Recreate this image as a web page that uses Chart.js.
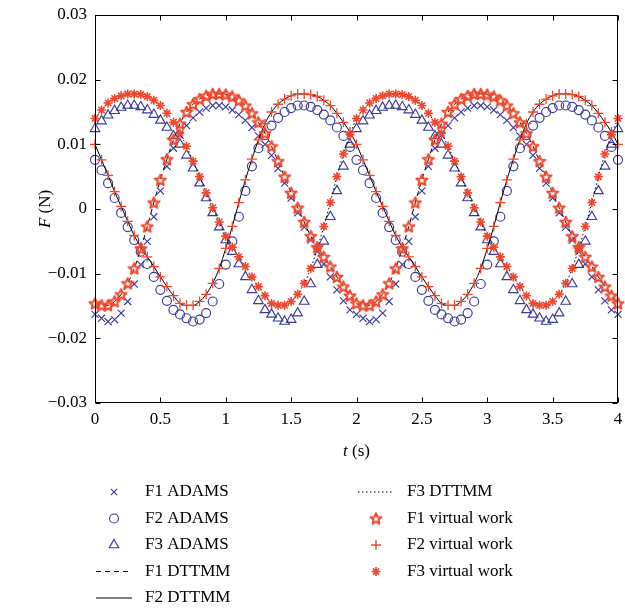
<!DOCTYPE html>
<html>
<head>
<meta charset="utf-8">
<script src="https://cdn.jsdelivr.net/npm/chart.js@4/dist/chart.umd.min.js"></script>
<style>
    html, body { margin: 0; padding: 0; background: #fff; }
    #wrap { position: relative; width: 625px; height: 608px; }
</style>
</head>
<body>
<div id="wrap"><canvas id="chart" width="625" height="608"></canvas></div>
<script>
(function () {
    "use strict";

    // time (s)
    const time = [
        0, 0.05, 0.1, 0.15, 0.2, 0.25, 0.3, 0.35, 0.4, 0.45,
        0.5, 0.55, 0.6, 0.65, 0.7, 0.75, 0.8, 0.85, 0.9, 0.95,
        1, 1.05, 1.1, 1.15, 1.2, 1.25, 1.3, 1.35, 1.4, 1.45,
        1.5, 1.55, 1.6, 1.65, 1.7, 1.75, 1.8, 1.85, 1.9, 1.95,
        2, 2.05, 2.1, 2.15, 2.2, 2.25, 2.3, 2.35, 2.4, 2.45,
        2.5, 2.55, 2.6, 2.65, 2.7, 2.75, 2.8, 2.85, 2.9, 2.95,
        3, 3.05, 3.1, 3.15, 3.2, 3.25, 3.3, 3.35, 3.4, 3.45,
        3.5, 3.55, 3.6, 3.65, 3.7, 3.75, 3.8, 3.85, 3.9, 3.95,
        4
    ];

    // ADAMS results (N)
    const adamsF1 = [
        -0.0163, -0.0169, -0.0174, -0.0171, -0.0161, -0.0143, -0.0116, -0.0086, -0.0050, -0.0012,
        0.0028, 0.0066, 0.0094, 0.0114, 0.0129, 0.0141, 0.0150, 0.0156, 0.0160, 0.0160,
        0.0158, 0.0153, 0.0146, 0.0137, 0.0126, 0.0113, 0.0100, 0.0083, 0.0063, 0.0040,
        0.0017, -0.0006, -0.0028, -0.0048, -0.0066, -0.0085, -0.0105, -0.0125, -0.0142, -0.0156,
        -0.0163, -0.0169, -0.0174, -0.0171, -0.0161, -0.0143, -0.0116, -0.0086, -0.0050, -0.0012,
        0.0028, 0.0066, 0.0094, 0.0114, 0.0129, 0.0141, 0.0150, 0.0156, 0.0160, 0.0160,
        0.0158, 0.0153, 0.0146, 0.0137, 0.0126, 0.0113, 0.0100, 0.0083, 0.0063, 0.0040,
        0.0017, -0.0006, -0.0028, -0.0048, -0.0066, -0.0085, -0.0105, -0.0125, -0.0142, -0.0156,
        -0.0163
    ];
    const adamsF2 = [
        0.0076, 0.0060, 0.0040, 0.0017, -0.0006, -0.0028, -0.0048, -0.0066, -0.0085, -0.0105,
        -0.0125, -0.0142, -0.0156, -0.0163, -0.0169, -0.0174, -0.0171, -0.0161, -0.0143, -0.0116,
        -0.0086, -0.0050, -0.0012, 0.0028, 0.0066, 0.0094, 0.0114, 0.0129, 0.0141, 0.0150,
        0.0156, 0.0160, 0.0160, 0.0158, 0.0153, 0.0146, 0.0137, 0.0126, 0.0113, 0.0096,
        0.0076, 0.0060, 0.0040, 0.0017, -0.0006, -0.0028, -0.0048, -0.0066, -0.0085, -0.0105,
        -0.0125, -0.0142, -0.0156, -0.0163, -0.0169, -0.0174, -0.0171, -0.0161, -0.0143, -0.0116,
        -0.0086, -0.0050, -0.0012, 0.0028, 0.0066, 0.0094, 0.0114, 0.0129, 0.0141, 0.0150,
        0.0156, 0.0160, 0.0160, 0.0158, 0.0153, 0.0146, 0.0137, 0.0126, 0.0113, 0.0096,
        0.0076
    ];
    const adamsF3 = [
        0.0124, 0.0136, 0.0145, 0.0152, 0.0157, 0.0160, 0.0160, 0.0158, 0.0153, 0.0146,
        0.0137, 0.0126, 0.0113, 0.0100, 0.0083, 0.0063, 0.0040, 0.0017, -0.0006, -0.0028,
        -0.0048, -0.0066, -0.0085, -0.0105, -0.0125, -0.0142, -0.0156, -0.0163, -0.0169, -0.0174,
        -0.0171, -0.0161, -0.0143, -0.0116, -0.0086, -0.0050, -0.0012, 0.0028, 0.0066, 0.0100,
        0.0124, 0.0136, 0.0145, 0.0152, 0.0157, 0.0160, 0.0160, 0.0158, 0.0153, 0.0146,
        0.0137, 0.0126, 0.0113, 0.0100, 0.0083, 0.0063, 0.0040, 0.0017, -0.0006, -0.0028,
        -0.0048, -0.0066, -0.0085, -0.0105, -0.0125, -0.0142, -0.0156, -0.0163, -0.0169, -0.0174,
        -0.0171, -0.0161, -0.0143, -0.0116, -0.0086, -0.0050, -0.0012, 0.0028, 0.0066, 0.0100,
        0.0124
    ];

    // virtual work results (N)
    const vwF1 = [
        -0.0146, -0.0149, -0.0149, -0.0143, -0.0132, -0.0115, -0.0092, -0.0061, -0.0027, 0.0010,
        0.0045, 0.0077, 0.0107, 0.0132, 0.0150, 0.0162, 0.0170, 0.0175, 0.0178, 0.0178,
        0.0177, 0.0174, 0.0168, 0.0160, 0.0148, 0.0134, 0.0117, 0.0097, 0.0074, 0.0050,
        0.0025, 0.0002, -0.0020, -0.0042, -0.0059, -0.0074, -0.0089, -0.0105, -0.0120, -0.0134,
        -0.0146, -0.0149, -0.0149, -0.0143, -0.0132, -0.0115, -0.0092, -0.0061, -0.0027, 0.0010,
        0.0045, 0.0077, 0.0107, 0.0132, 0.0150, 0.0162, 0.0170, 0.0175, 0.0178, 0.0178,
        0.0177, 0.0174, 0.0168, 0.0160, 0.0148, 0.0134, 0.0117, 0.0097, 0.0074, 0.0050,
        0.0025, 0.0002, -0.0020, -0.0042, -0.0059, -0.0074, -0.0089, -0.0105, -0.0120, -0.0134,
        -0.0146
    ];
    const vwF2 = [
        0.0100, 0.0076, 0.0052, 0.0027, 0.0004, -0.0019, -0.0041, -0.0059, -0.0074, -0.0089,
        -0.0105, -0.0120, -0.0134, -0.0146, -0.0149, -0.0149, -0.0143, -0.0132, -0.0115, -0.0092,
        -0.0061, -0.0027, 0.0010, 0.0045, 0.0077, 0.0107, 0.0132, 0.0150, 0.0162, 0.0170,
        0.0175, 0.0178, 0.0178, 0.0177, 0.0174, 0.0168, 0.0160, 0.0148, 0.0134, 0.0119,
        0.0100, 0.0076, 0.0052, 0.0027, 0.0004, -0.0019, -0.0041, -0.0059, -0.0074, -0.0089,
        -0.0105, -0.0120, -0.0134, -0.0146, -0.0149, -0.0149, -0.0143, -0.0132, -0.0115, -0.0092,
        -0.0061, -0.0027, 0.0010, 0.0045, 0.0077, 0.0107, 0.0132, 0.0150, 0.0162, 0.0170,
        0.0175, 0.0178, 0.0178, 0.0177, 0.0174, 0.0168, 0.0160, 0.0148, 0.0134, 0.0119,
        0.0100
    ];
    const vwF3 = [
        0.0140, 0.0153, 0.0164, 0.0171, 0.0175, 0.0178, 0.0178, 0.0177, 0.0174, 0.0168,
        0.0160, 0.0148, 0.0134, 0.0117, 0.0097, 0.0074, 0.0050, 0.0025, 0.0002, -0.0020,
        -0.0042, -0.0059, -0.0074, -0.0089, -0.0105, -0.0120, -0.0134, -0.0146, -0.0149, -0.0149,
        -0.0143, -0.0132, -0.0115, -0.0092, -0.0061, -0.0027, 0.0010, 0.0050, 0.0085, 0.0115,
        0.0140, 0.0153, 0.0164, 0.0171, 0.0175, 0.0178, 0.0178, 0.0177, 0.0174, 0.0168,
        0.0160, 0.0148, 0.0134, 0.0117, 0.0097, 0.0074, 0.0050, 0.0025, 0.0002, -0.0020,
        -0.0042, -0.0059, -0.0074, -0.0089, -0.0105, -0.0120, -0.0134, -0.0146, -0.0149, -0.0149,
        -0.0143, -0.0132, -0.0115, -0.0092, -0.0061, -0.0027, 0.0010, 0.0050, 0.0085, 0.0115,
        0.0140
    ];

    // DTTMM curves lie on top of the virtual work values
    const dttmmF1 = vwF1;
    const dttmmF2 = vwF2;
    const dttmmF3 = vwF3;

    const labels = [
        "F1 ADAMS", "F2 ADAMS", "F3 ADAMS",
        "F1 DTTMM", "F2 DTTMM", "F3 DTTMM",
        "F1 virtual work", "F2 virtual work", "F3 virtual work"
    ];

    const blue = "#3a3a9c";
    const red = "#f0462d";
    const serif = "'Liberation Serif', 'Times New Roman', serif";
    const none = "rgba(0,0,0,0)";

    function starImage(color) {
        const c = document.createElement("canvas");
        c.width = 14; c.height = 14;
        const g = c.getContext("2d");
        g.strokeStyle = color;
        g.lineWidth = 2;
        g.lineJoin = "round";
        g.beginPath();
        for (let i = 0; i < 10; i++) {
            const r = i % 2 ? 2.6 : 5.8;
            const a = -Math.PI / 2 + i * Math.PI / 5;
            const px = 7 + r * Math.cos(a), py = 7.5 + r * Math.sin(a);
            if (i === 0) g.moveTo(px, py); else g.lineTo(px, py);
        }
        g.closePath();
        g.stroke();
        return c;
    }
    const star = starImage(red);

    const xy = (vals) => time.map((t, i) => ({ x: t, y: vals[i] }));

    const markers = (label, vals, style, color, radius, width, order) => ({
        label, data: xy(vals), showLine: false, order, clip: 8,
        pointStyle: style, pointRadius: radius, pointHoverRadius: radius,
        pointBorderColor: color, pointBackgroundColor: none, pointBorderWidth: width
    });
    const curve = (label, vals, dash) => ({
        label, data: xy(vals), showLine: true, order: 1,
        borderColor: "#000", borderWidth: 1, borderDash: dash,
        pointRadius: 0, cubicInterpolationMode: "monotone"
    });

    const datasets = [
        markers(labels[0], adamsF1, "crossRot", blue, 5, 1.15, 2),
        markers(labels[1], adamsF2, "circle", blue, 4.5, 1.15, 2),
        markers(labels[2], adamsF3, "triangle", blue, 5.5, 1.15, 2),
        curve(labels[3], dttmmF1, [5, 4]),
        curve(labels[4], dttmmF2, []),
        curve(labels[5], dttmmF3, [1.5, 2.5]),
        markers(labels[6], vwF1, star, red, 6, 1, 0),
        markers(labels[7], vwF2, "cross", red, 5, 1.3, 0),
        markers(labels[8], vwF3, "star", red, 4.5, 1.6, 0)
    ];

    // legend entries: [label index, kind, style, color, radius, borderWidth] or [label index, "line", dash]
    const legendLeft = [
        [0, "point", "crossRot", blue, 4.5, 1.15],
        [1, "point", "circle", blue, 4.5, 1.15],
        [2, "point", "triangle", blue, 5.5, 1.15],
        [3, "line", [5, 4]],
        [4, "line", []]
    ];
    const legendRight = [
        [5, "line", [1.5, 2.5]],
        [6, "point", star, red, 6, 1],
        [7, "point", "cross", red, 5, 1.3],
        [8, "point", "star", red, 4.5, 1.6]
    ];

    const frame = {
        id: "frame",
        afterDraw(chart) {
            const ctx = chart.ctx;
            const a = chart.chartArea;
            const sx = chart.scales.x, sy = chart.scales.y;
            const L = Math.round(a.left) + 0.5, R = Math.round(a.right) - 0.5;
            const T = Math.round(a.top) + 0.5, B = Math.round(a.bottom) - 0.5;
            ctx.save();
            ctx.strokeStyle = "#000";
            ctx.lineWidth = 1;
            ctx.strokeRect(L, T, R - L, B - T);
            ctx.beginPath();
            sx.ticks.forEach((tk) => {
                const px = Math.round(sx.getPixelForValue(tk.value)) + 0.5;
                ctx.moveTo(px, B); ctx.lineTo(px, B - 5);
                ctx.moveTo(px, T); ctx.lineTo(px, T + 5);
            });
            sy.ticks.forEach((tk) => {
                const py = Math.round(sy.getPixelForValue(tk.value)) + 0.5;
                ctx.moveTo(L, py); ctx.lineTo(L + 5, py);
                ctx.moveTo(R, py); ctx.lineTo(R - 5, py);
            });
            ctx.stroke();

            // axis titles
            ctx.fillStyle = "#000";
            ctx.textBaseline = "middle";
            ctx.textAlign = "left";
            const it = "italic 17px " + serif, rg = "17px " + serif;
            ctx.font = it; const wt = ctx.measureText("t").width;
            ctx.font = rg; const ws = ctx.measureText(" (s)").width;
            const cx = (a.left + a.right) / 2 - (wt + ws) / 2;
            ctx.font = it; ctx.fillText("t", cx, 452);
            ctx.font = rg; ctx.fillText(" (s)", cx + wt, 452);

            ctx.save();
            ctx.translate(46, (a.top + a.bottom) / 2);
            ctx.rotate(-Math.PI / 2);
            ctx.font = it; const wf = ctx.measureText("F").width;
            ctx.font = rg; const wn = ctx.measureText(" (N)").width;
            ctx.font = it; ctx.fillText("F", -(wf + wn) / 2, 0);
            ctx.font = rg; ctx.fillText(" (N)", -(wf + wn) / 2 + wf, 0);
            ctx.restore();

            // legend
            const rows = [492, 518.5, 545, 571.5, 598];
            const drawItem = (item, cxm, tx, y) => {
                if (item[1] === "line") {
                    ctx.save();
                    ctx.strokeStyle = "#000";
                    ctx.lineWidth = 1;
                    ctx.setLineDash(item[2]);
                    ctx.beginPath();
                    ctx.moveTo(cxm - 18, y); ctx.lineTo(cxm + 18, y);
                    ctx.stroke();
                    ctx.restore();
                } else {
                    ctx.save();
                    ctx.strokeStyle = item[3];
                    ctx.fillStyle = none;
                    ctx.lineWidth = item[5];
                    Chart.helpers.drawPoint(ctx, {
                        pointStyle: item[2], radius: item[4], rotation: 0, borderWidth: item[5]
                    }, cxm, y);
                    ctx.restore();
                }
                ctx.fillStyle = "#000";
                ctx.font = rg;
                ctx.textAlign = "left";
                ctx.textBaseline = "middle";
                ctx.fillText(labels[item[0]], tx, y);
            };
            legendLeft.forEach((item, i) => drawItem(item, 114, 145, rows[i]));
            legendRight.forEach((item, i) => drawItem(item, 376, 407, rows[i]));
            ctx.restore();
        }
    };

    new Chart(document.getElementById("chart"), {
        type: "scatter",
        data: { datasets },
        options: {
            responsive: false,
            animation: false,
            events: [],
            layout: { padding: { top: 15, right: 5, left: 0, bottom: 145 } },
            plugins: { legend: { display: false }, tooltip: { enabled: false } },
            scales: {
                x: {
                    type: "linear", min: 0, max: 4,
                    grid: { display: false, drawTicks: false },
                    border: { display: false },
                    afterFit: (s) => { s.height = 60; s.paddingLeft = 0; s.paddingRight = 0; },
                    ticks: {
                        stepSize: 0.5, padding: 6, maxRotation: 0,
                        color: "#000", font: { family: serif, size: 17 },
                        callback: (v) => String(v)
                    }
                },
                y: {
                    type: "linear", min: -0.03, max: 0.03,
                    grid: { display: false, drawTicks: false },
                    border: { display: false },
                    afterFit: (s) => { s.width = 95; s.paddingTop = 0; s.paddingBottom = 0; },
                    ticks: {
                        stepSize: 0.01, padding: 8,
                        color: "#000", font: { family: serif, size: 17 },
                        callback: (v) => {
                            const r = Math.round(v * 100) / 100;
                            return r === 0 ? "0" : String(r).replace("-", "\u2212");
                        }
                    }
                }
            }
        },
        plugins: [frame]
    });
})();
</script>
</body>
</html>
